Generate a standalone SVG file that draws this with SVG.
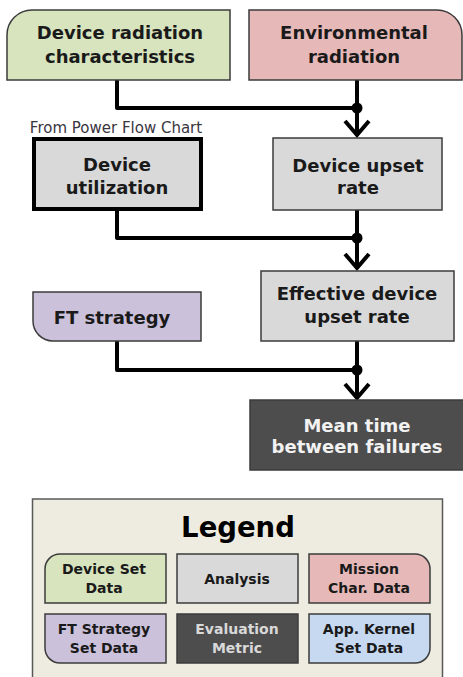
<svg xmlns="http://www.w3.org/2000/svg" width="463" height="677" viewBox="0 0 463 677">
<style>
.n{stroke:#3b3b3b;stroke-width:1.5}
.t{font-family:"DejaVu Sans",Verdana,sans-serif;font-weight:bold;font-size:18px;fill:#1a1a1a;text-anchor:middle}
.tw{fill:#f2f2f2}
.lt{font-family:"DejaVu Sans",Verdana,sans-serif;font-weight:bold;font-size:14px;fill:#1a1a1a;text-anchor:middle}
.c{fill:none;stroke:#000;stroke-width:4;stroke-linejoin:round}
.ah{fill:none;stroke:#000;stroke-width:4;stroke-linecap:butt;stroke-linejoin:miter}
.green{fill:#d7e4bd}.pink{fill:#e6b9b8}.gray{fill:#d9d9d9}.purple{fill:#ccc1da}.dark{fill:#4d4d4d}.blue{fill:#c6d9f1}
</style>
<rect width="463" height="677" fill="#fff"/>
<g id="connectors">
<path class="c" d="M117,80 V108 H357"/>
<path class="c" d="M357,80 V136"/>
<circle cx="357" cy="108" r="5.5"/>
<path class="ah" d="M345,121 L357,135 L369,121"/>
<path class="c" d="M117,210 V238 H357"/>
<path class="c" d="M357,210 V269"/>
<circle cx="357" cy="238" r="5.5"/>
<path class="ah" d="M345,254 L357,268 L369,254"/>
<path class="c" d="M117,341 V370 H357"/>
<path class="c" d="M357,341 V398"/>
<circle cx="357" cy="370" r="5.5"/>
<path class="ah" d="M345,384 L357,398 L369,384"/>
</g>
<g id="device-radiation">
<path class="n green" d="M7,80 V35 A25,25 0 0 1 32,10 H230 V80 Z"/>
<text class="t" x="120" y="39">Device radiation</text>
<text class="t" x="120" y="63">characteristics</text>
</g>
<g id="environmental-radiation">
<path class="n pink" d="M249,80 V10 H437 A25,25 0 0 1 462,35 V80 Z"/>
<text class="t" x="354" y="39">Environmental</text>
<text class="t" x="354" y="63">radiation</text>
</g>
<g id="device-utilization">
<text x="116" y="133" font-family="DejaVu Sans,Verdana,sans-serif" font-size="15" fill="#3a3640" text-anchor="middle">From Power Flow Chart</text>
<rect x="34" y="139" width="167" height="70" fill="#d9d9d9" stroke="#000" stroke-width="4"/>
<text class="t" x="117" y="171">Device</text>
<text class="t" x="117" y="194">utilization</text>
</g>
<g id="device-upset-rate">
<rect class="n gray" x="273" y="138" width="169" height="72"/>
<text class="t" x="358" y="172">Device upset</text>
<text class="t" x="358" y="194">rate</text>
</g>
<g id="effective-device-upset-rate">
<rect class="n gray" x="261" y="271" width="193" height="70"/>
<text class="t" x="357" y="300">Effective device</text>
<text class="t" x="357" y="323">upset rate</text>
</g>
<g id="ft-strategy">
<path class="n purple" d="M33,292 H201 V341 H53 A20,20 0 0 1 33,321 Z"/>
<text class="t" x="112" y="324">FT strategy</text>
</g>
<g id="mtbf">
<rect class="n dark" x="250" y="400" width="215" height="70" stroke="#262626"/>
<text class="t tw" x="357" y="432">Mean time</text>
<text class="t tw" x="357" y="453">between failures</text>
</g>
<g id="legend">
<rect x="32.5" y="499" width="410" height="190" fill="#eeece1" stroke="#595959" stroke-width="1.5"/>
<text x="238" y="537" font-family="DejaVu Sans,Verdana,sans-serif" font-weight="bold" font-size="27.5" fill="#000" text-anchor="middle">Legend</text>
<g id="legend-device-set">
<path class="n green" d="M45,603 V569 A15,15 0 0 1 60,554 H166 V603 Z"/>
<text class="lt" x="104" y="574">Device Set</text>
<text class="lt" x="104" y="593">Data</text>
</g>
<g id="legend-analysis">
<rect class="n gray" x="177" y="554" width="121" height="49"/>
<text class="lt" x="237" y="584">Analysis</text>
</g>
<g id="legend-mission">
<path class="n pink" d="M309,603 V554 H415 A15,15 0 0 1 430,569 V603 Z"/>
<text class="lt" x="369" y="574">Mission</text>
<text class="lt" x="369" y="593">Char. Data</text>
</g>
<g id="legend-ft">
<path class="n purple" d="M45,614 H166 V663 H60 A15,15 0 0 1 45,648 Z"/>
<text class="lt" x="104" y="634">FT Strategy</text>
<text class="lt" x="104" y="653">Set Data</text>
</g>
<g id="legend-eval">
<rect class="n dark" x="177" y="614" width="121" height="49" stroke="#262626"/>
<text class="lt" x="237" y="634" style="fill:#d9d9d9">Evaluation</text>
<text class="lt" x="237" y="653" style="fill:#d9d9d9">Metric</text>
</g>
<g id="legend-app">
<path class="n blue" d="M309,614 H430 V648 A15,15 0 0 1 415,663 H309 Z"/>
<text class="lt" x="369" y="634">App. Kernel</text>
<text class="lt" x="369" y="653">Set Data</text>
</g>
</g>
</svg>
